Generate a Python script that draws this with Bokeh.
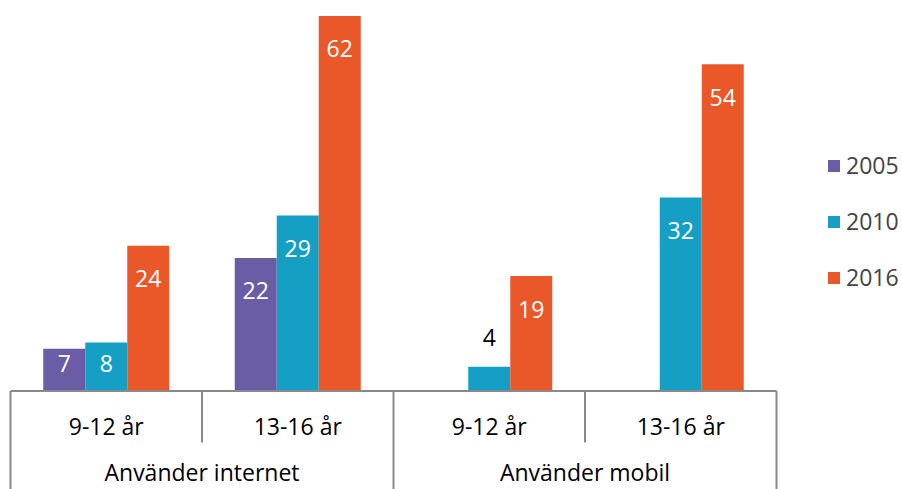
from bokeh.plotting import figure
from bokeh.models import ColumnDataSource, Range1d, Legend, LegendItem
from bokeh.core.properties import value
from bokeh.embed import file_html
from bokeh.resources import INLINE

# ---- data ----
groups = ["Använder internet", "Använder mobil"]
ages = ["9-12 år", "13-16 år"]
years = ["2005", "2010", "2016"]
v2005 = [7, 22, None, None]
v2010 = [8, 29, 4, 32]
v2016 = [24, 62, 19, 54]
series = [v2005, v2010, v2016]
colors = ["#6a5ca5", "#159fc4", "#ea582a"]

cats = [(g, a) for g in groups for a in ages]
n = len(cats)

# ---- layout constants (pixels) ----
W, H = 902, 489
CAT_PX = 191.5          # width of one category in px
PX = 6.05               # px per unit value
LEFT_PAD = 10           # px from frame left to table
BASE_Y = 390.5          # px from frame top to zero line
FONT = "Open Sans"
FS = "23px"
GREY = "#898989"

x0 = -0.5 - LEFT_PAD / CAT_PX
x1 = x0 + W / CAT_PX
y1 = BASE_Y / PX
y0 = -(H - BASE_Y) / PX

p = figure(width=W, height=H, x_range=Range1d(x0, x1), y_range=Range1d(y0, y1),
           x_axis_type=None, y_axis_type=None, output_backend="svg",
           toolbar_location=None, min_border=0, outline_line_color=None)
p.grid.visible = False
p.background_fill_color = "white"
p.border_fill_color = "white"

bw = 42 / CAT_PX
offsets = [-bw, 0, bw]

items = []
lab_x, lab_y, lab_t, lab_c = [], [], [], []
for s, vals, col, off in zip(years, series, colors, offsets):
    xs = [i + off for i, v in enumerate(vals) if v is not None]
    ts = [v for v in vals if v is not None]
    src = ColumnDataSource(dict(x=xs, top=ts))
    r = p.vbar(x="x", top="top", bottom=0, width=bw, source=src,
               fill_color=col, line_color=None)
    items.append(LegendItem(label=s, renderers=[r]))
    for x, v in zip(xs, ts):
        h = v * PX
        if h < 30:
            lab_y.append(v + 29 / PX)
            lab_c.append("black")
        else:
            lab_y.append(max(v - 33 / PX, 28 / PX))
            lab_c.append("white")
        lab_x.append(x)
        lab_t.append(str(v))

p.text(x=lab_x, y=lab_y, text=lab_t, text_color=lab_c, text_align="center",
       text_baseline="middle", text_font=value(FONT), text_font_size=FS)

# ---- category table ----
bounds = [i - 0.5 for i in range(n + 1)]
outer = [bounds[0]] + [bounds[i] for i in range(1, n) if cats[i][0] != cats[i - 1][0]] + [bounds[-1]]
inner = [b for b in bounds if b not in outer]
p.segment(x0=[bounds[0]], y0=[0], x1=[bounds[-1]], y1=[0], line_color=GREY, line_width=2)
p.segment(x0=outer, y0=[0] * len(outer), x1=outer, y1=[y0 - 5] * len(outer),
          line_color=GREY, line_width=2)
p.segment(x0=inner, y0=[0] * len(inner), x1=inner, y1=[-51.5 / PX] * len(inner),
          line_color=GREY, line_width=2)

p.text(x=list(range(n)), y=[-34.5 / PX] * n, text=[c[1] for c in cats],
       text_align="center", text_baseline="middle", text_color="black",
       text_font=value(FONT), text_font_size=FS)
gx = [sum(i for i in range(n) if cats[i][0] == g) / len(ages) for g in groups]
p.text(x=gx, y=[-80.5 / PX] * len(groups), text=groups,
       text_align="center", text_baseline="middle", text_color="black",
       text_font=value(FONT), text_font_size=FS)

legend = Legend(items=items, location=(826, 196), orientation="vertical",
                glyph_width=15, glyph_height=15, label_standoff=5,
                label_text_font=FONT, label_text_font_size=FS,
                spacing=24, padding=0, margin=0,
                border_line_color=None, background_fill_alpha=0)
p.add_layout(legend)

open("out.html", "w").write(file_html(p, INLINE))
